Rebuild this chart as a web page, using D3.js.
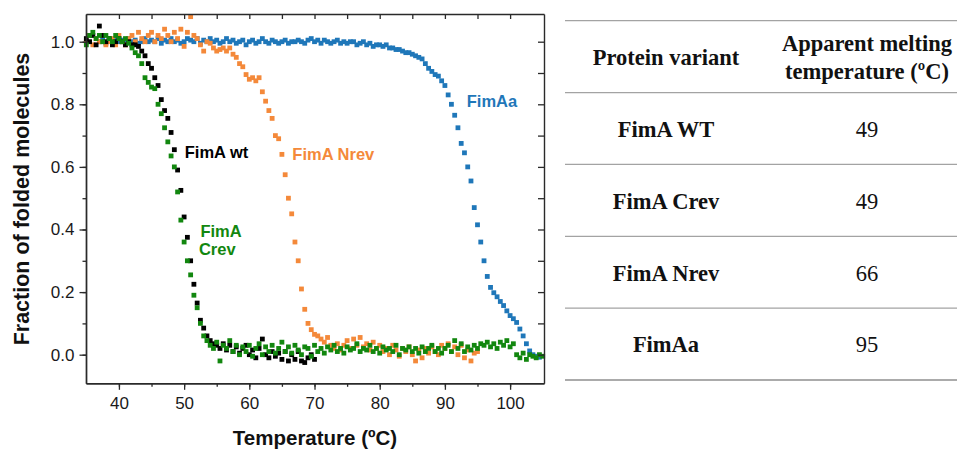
<!DOCTYPE html>
<html>
<head>
<meta charset="utf-8">
<script src="https://cdn.jsdelivr.net/npm/d3@7"></script>
<style>
  body { margin: 0; background: #fff; }
  svg { display: block; }
</style>
</head>
<body>
<svg id="chart" width="957" height="449"></svg>
<script>
// ---------------- DATA ----------------
const step = 0.5; // temperature spacing of measurements (ºC)

// FimA wt (black), 35.0 .. 70.0 ºC
const wtStart = 35;
const wtValues = [
  1.01,1.00,1.02,0.99,1.05,1.02,1.00,1.01,0.99,1.00,
  1.01,1.00,0.99,1.00,0.99,0.99,0.985,0.97,0.955,0.93,
  0.915,0.885,0.86,0.815,0.78,0.755,0.71,0.655,0.59,0.525,
  0.44,0.375,0.30,0.225,0.165,0.11,0.085,0.06,0.045,0.035,
  0.03,0.02,0.035,0.015,0.03,0.01,0.025,0.005,0.02,0.03,
  0.00,0.015,-0.01,0.02,0.05,0.00,-0.01,0.01,-0.005,0.005,
  -0.015,0.01,-0.02,0.00,-0.015,0.01,-0.02,-0.025,-0.01,0.00,
  -0.015
];

// FimA Crev (green), 35.0 .. 105.0 ºC
const crevStart = 35;
const crevValues = [
  0.99,1.02,1.03,1.01,1.02,1.00,1.02,1.01,1.00,1.02,
  1.01,1.00,1.01,0.995,0.98,0.965,0.955,0.93,0.885,0.87,
  0.855,0.85,0.80,0.77,0.725,0.68,0.635,0.60,0.52,0.43,
  0.36,0.30,0.255,0.19,0.15,0.10,0.06,0.045,0.03,0.02,
  0.04,-0.02,0.03,0.02,0.045,0.01,0.03,0.00,0.025,0.01,
  0.03,-0.005,0.02,0.035,0.00,0.025,0.01,0.03,0.005,0.02,
  0.04,0.01,0.025,0.005,0.03,0.015,0.00,0.025,0.02,-0.005,
  0.03,0.01,0.02,0.005,0.025,0.015,0.03,0.01,0.02,0.005,
  0.025,0.015,0.02,0.035,0.01,0.02,0.015,0.03,0.01,0.02,
  0.005,0.025,0.015,0.02,0.01,0.03,0.00,0.02,0.015,0.025,
  0.01,0.02,0.005,0.025,0.01,0.02,0.03,0.01,0.02,0.005,
  0.02,0.03,0.01,0.045,0.02,0.035,0.01,0.025,0.015,0.03,
  0.02,0.035,0.03,0.04,0.025,0.035,0.02,0.04,0.03,0.045,
  0.025,0.035,0.00,-0.01,0.005,-0.015,0.00,-0.005,-0.01,0.00,
  -0.005
];

// FimA Nrev (orange), 35.0 .. 95.0 ºC
const nrevStart = 35;
const nrevValues = [
  1.00,1.02,0.99,1.01,1.00,1.02,0.99,1.00,1.01,0.99,
  1.02,1.00,0.99,1.01,1.02,1.00,1.03,1.01,1.00,1.02,
  1.03,1.00,1.02,1.01,1.04,1.02,1.00,1.03,1.01,1.04,
  0.985,1.03,1.08,1.02,1.01,0.99,0.97,1.00,0.995,0.98,
  0.97,0.975,0.98,0.97,0.98,0.96,0.95,0.93,0.92,0.895,
  0.88,0.885,0.875,0.885,0.84,0.81,0.78,0.755,0.70,0.69,
  0.64,0.575,0.50,0.45,0.36,0.30,0.21,0.145,0.10,0.08,
  0.065,0.06,0.05,0.04,0.055,0.03,0.02,0.035,0.015,0.03,
  0.045,0.02,0.05,0.03,0.055,0.025,0.035,0.015,0.04,0.02,
  0.03,0.01,0.02,0.00,0.03,0.015,-0.005,0.02,0.01,0.025,
  0.00,-0.02,0.015,-0.01,0.02,0.005,0.025,0.01,0.00,0.03,
  0.02,0.035,0.01,0.025,0.00,0.03,-0.01,0.015,-0.02,0.005,
  0.01
];

// FimAa (blue), 37.0 .. 105.0 ºC
const aaStart = 37;
const aaValues = [
  1.00,1.01,0.995,1.005,1.00,1.01,
  1.00,1.005,0.995,1.01,1.00,1.005,0.995,1.00,1.01,1.00,
  1.005,1.00,1.01,0.995,1.005,1.00,1.01,1.00,1.005,0.995,
  1.00,1.01,1.005,1.00,1.01,0.995,1.005,1.00,1.01,1.00,
  1.005,0.995,1.00,1.01,1.00,1.005,0.995,1.00,1.005,0.99,
  1.00,1.005,0.995,1.00,1.01,1.00,0.995,1.005,1.00,0.995,
  1.00,1.005,0.995,1.00,1.00,1.005,1.00,0.995,1.005,1.01,
  1.00,1.005,0.995,1.005,1.00,0.995,1.00,1.005,0.995,1.00,
  0.995,1.00,1.00,0.99,0.995,1.00,0.99,0.995,0.985,0.99,
  0.99,0.985,0.99,0.98,0.98,0.975,0.975,0.97,0.965,0.965,
  0.96,0.955,0.95,0.945,0.93,0.915,0.905,0.895,0.89,0.875,
  0.86,0.83,0.80,0.765,0.725,0.675,0.645,0.60,0.555,0.47,
  0.415,0.36,0.30,0.25,0.215,0.198,0.185,0.17,0.157,0.14,
  0.125,0.115,0.103,0.082,0.06,0.035,0.012,0.00,-0.005,-0.008
];

// Axis ticks
const xTickValues = [40, 50, 60, 70, 80, 90, 100];
const yTickValues = [0.0, 0.2, 0.4, 0.6, 0.8, 1.0];

// Series names / colours / label text
const seriesNames = ["FimA wt", "FimA Crev", "FimA Nrev", "FimAa"];
const seriesColors = ["#000000", "#12870f", "#f4893a", "#1f77b9"];
const seriesLabelLines = [["FimA wt"], ["FimA", "Crev"], ["FimA Nrev"], ["FimAa"]];
const seriesLabelAnchors = [[50.1, 0.628], [52.5, 0.375], [66.6, 0.622], [93.35, 0.792]];

// Table
const tableHeaders = [["Protein variant"], ["Apparent melting", "temperature (ºC)"]];
const tableVariants = ["FimA WT", "FimA Crev", "FimA Nrev", "FimAa"];
const tableTm = [49, 49, 66, 95];

// -------------- DRAW ----------------
const svg = d3.select("#chart");
const pLeft = 86, pRight = 544, pTop = 14, pBottom = 383.3;

const x = d3.scaleLinear().domain([34.95, 105.2]).range([pLeft, pRight]);
const y = d3.scaleLinear().domain([-0.0914, 1.0885]).range([pBottom, pTop]);

function toPoints(start, values) {
  return values.map((v, i) => ({ t: start + i * step, f: v }));
}
const series = [
  toPoints(wtStart, wtValues),
  toPoints(crevStart, crevValues),
  toPoints(nrevStart, nrevValues),
  toPoints(aaStart, aaValues)
];

// draw order: blue, orange, black, green
const drawOrder = [3, 2, 0, 1];
const sz = 4.8;
const plot = svg.append("g");
drawOrder.forEach(si => {
  plot.append("g").selectAll("rect")
    .data(series[si])
    .join("rect")
    .attr("x", d => x(d.t) - sz / 2)
    .attr("y", d => y(d.f) - sz / 2)
    .attr("width", sz)
    .attr("height", sz)
    .attr("fill", seriesColors[si]);
});

// Axes
const axisColor = "#2a2a2a";
const fontSans = "'Liberation Sans', Arial, Helvetica, sans-serif";

function styleAxis(g) {
  g.select(".domain").attr("stroke", axisColor).attr("stroke-width", 1.4);
  g.selectAll(".tick line").attr("stroke", axisColor).attr("stroke-width", 1.3);
  g.selectAll("text").attr("fill", "#1a1a1a").attr("font-family", fontSans).attr("font-size", 17);
}

const xMinor = d3.range(40, 105, 5);
const yMinor = d3.range(0, 11).map(i => i / 10);

svg.append("g").attr("transform", `translate(0,${pBottom})`)
  .call(d3.axisBottom(x).tickValues(xMinor).tickSize(3.5).tickSizeOuter(0).tickFormat(""))
  .call(styleAxis);
svg.append("g").attr("transform", `translate(0,${pBottom})`)
  .call(d3.axisBottom(x).tickValues(xTickValues).tickSize(6.5).tickSizeOuter(0).tickPadding(7).tickFormat(d3.format("d")))
  .call(styleAxis);
svg.append("g").attr("transform", `translate(${pLeft},0)`)
  .call(d3.axisLeft(y).tickValues(yMinor).tickSize(3.5).tickSizeOuter(0).tickFormat(""))
  .call(styleAxis);
svg.append("g").attr("transform", `translate(${pLeft},0)`)
  .call(d3.axisLeft(y).tickValues(yTickValues).tickSize(6.5).tickSizeOuter(0).tickPadding(5).tickFormat(d3.format(".1f")))
  .call(styleAxis);
// top (ticks inward)
svg.append("g").attr("transform", `translate(0,${pTop})`)
  .call(d3.axisBottom(x).tickValues(xMinor).tickSize(5).tickSizeOuter(0).tickFormat(""))
  .call(styleAxis);
// right (ticks inward)
svg.append("g").attr("transform", `translate(${pRight},0)`)
  .call(d3.axisLeft(y).tickValues(yMinor).tickSize(6).tickSizeOuter(0).tickFormat(""))
  .call(styleAxis);

// Axis titles
svg.append("text")
  .attr("x", (pLeft + pRight) / 2)
  .attr("y", 445)
  .attr("text-anchor", "middle")
  .attr("font-family", fontSans)
  .attr("font-weight", "bold")
  .attr("font-size", 20.5)
  .attr("fill", "#111")
  .text("Temperature (ºC)");

svg.append("text")
  .attr("transform", "translate(29,199) rotate(-90)")
  .attr("text-anchor", "middle")
  .attr("font-family", fontSans)
  .attr("font-weight", "bold")
  .attr("font-size", 21.5)
  .attr("fill", "#111")
  .text("Fraction of folded molecules");

// Series labels (one text element per line)
seriesLabelLines.forEach((lines, i) => {
  const ax = x(seriesLabelAnchors[i][0]);
  const ay = y(seriesLabelAnchors[i][1]);
  lines.forEach((ln, j) => {
    svg.append("text")
      .attr("x", ax - (j > 0 ? 1.5 : 0))
      .attr("y", ay + j * 18)
      .attr("font-family", fontSans)
      .attr("font-weight", "bold")
      .attr("font-size", 16.5)
      .attr("fill", seriesColors[i])
      .text(ln);
  });
});

// ---------------- TABLE ----------------
const fontSerif = "'Liberation Serif', 'Times New Roman', Times, serif";
const tbl = svg.append("g");
const rowY = d3.scaleLinear().domain([0, 5]).range([20.7, 380]);
const colX = d3.scalePoint().domain([0, 1]).range([666, 867]);

d3.range(0, 6).forEach(i => {
  tbl.append("line")
    .attr("x1", 565).attr("x2", 957)
    .attr("y1", rowY(i)).attr("y2", rowY(i))
    .attr("stroke", i === 5 ? "#8f8f8f" : "#a3a3a3")
    .attr("stroke-width", 1.3);
});

tableHeaders.forEach((lines, c) => {
  const cy = (rowY(0) + rowY(1)) / 2 + 8;
  lines.forEach((ln, j) => {
    tbl.append("text")
      .attr("x", colX(c))
      .attr("y", lines.length === 1 ? cy : cy - 14 + j * 28)
      .attr("text-anchor", "middle")
      .attr("font-family", fontSerif)
      .attr("font-weight", "bold")
      .attr("font-size", 22.5)
      .attr("fill", "#111")
      .text(ln);
  });
});

tableVariants.forEach((v, i) => {
  const cy = (rowY(i + 1) + rowY(i + 2)) / 2 + 8.4;
  tbl.append("text")
    .attr("x", colX(0)).attr("y", cy)
    .attr("text-anchor", "middle")
    .attr("font-family", fontSerif)
    .attr("font-weight", "bold")
    .attr("font-size", 22.5)
    .attr("fill", "#111")
    .text(v);
  tbl.append("text")
    .attr("x", colX(1)).attr("y", cy)
    .attr("text-anchor", "middle")
    .attr("font-family", fontSerif)
    .attr("font-size", 22.5)
    .attr("fill", "#111")
    .text(tableTm[i]);
});
</script>
</body>
</html>
